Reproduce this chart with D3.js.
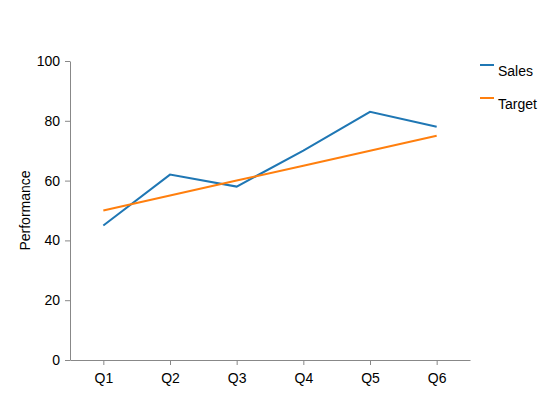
<!DOCTYPE html>
<html>
<head>
<meta charset="utf-8">
<script src="https://d3js.org/d3.v7.min.js"></script>
<style>
  body { margin: 0; background: #fff; }
  text { font-family: "Liberation Sans", Arial, sans-serif; }
</style>
</head>
<body>
<div id="chart"></div>
<script>
var quarters = ["Q1", "Q2", "Q3", "Q4", "Q5", "Q6"];
var sales = [45, 62, 58, 70, 83, 78];
var target = [50, 55, 60, 65, 70, 75];
var yTicks = [0, 20, 40, 60, 80, 100];
var seriesNames = ["Sales", "Target"];
var colors = ["#1f77b4", "#ff7f0e"];

var width = 548, height = 397;
var margin = {top: 61, right: 78, bottom: 37, left: 70};
var w = width - margin.left - margin.right;
var h = height - margin.top - margin.bottom;

var svg = d3.select("#chart").append("svg")
  .attr("width", width)
  .attr("height", height);
var g = svg.append("g").attr("transform", "translate(" + margin.left + "," + margin.top + ")");

var x = d3.scalePoint().domain(quarters).range([0, w]).padding(0.5);
var y = d3.scaleLinear().domain([0, 100]).range([h, 0]);

var xAxis = g.append("g")
  .attr("transform", "translate(0," + h + ")")
  .call(d3.axisBottom(x).tickSize(5).tickSizeOuter(0).tickPadding(8));
var yAxis = g.append("g")
  .call(d3.axisLeft(y).tickValues(yTicks).tickSize(5).tickSizeOuter(0).tickPadding(5));

[xAxis, yAxis].forEach(function(a) {
  a.select(".domain").attr("stroke", "#888");
  a.selectAll(".tick line").attr("stroke", "#888");
  a.selectAll(".tick text")
    .attr("fill", "#000")
    .style("font-size", "14px")
    .style("font-family", "'Liberation Sans', Arial, sans-serif");
});

g.append("text")
  .attr("transform", "rotate(-90)")
  .attr("x", -h / 2)
  .attr("y", -40)
  .attr("text-anchor", "middle")
  .style("font-size", "14px")
  .text("Performance");

var line = d3.line()
  .x(function(d, i) { return x(quarters[i]); })
  .y(function(d) { return y(d); });

[sales, target].forEach(function(s, i) {
  g.append("path")
    .datum(s)
    .attr("fill", "none")
    .attr("stroke", colors[i])
    .attr("stroke-width", 2)
    .attr("d", line);
});

// legend: short line sits level with the top of the label
var legend = svg.append("g").attr("transform", "translate(480,65)");
var item = legend.selectAll("g").data(seriesNames).enter().append("g")
  .attr("transform", function(d, i) { return "translate(0," + i * 33 + ")"; });
item.append("line")
  .attr("x1", 0).attr("x2", 14)
  .attr("stroke", function(d, i) { return colors[i]; })
  .attr("stroke-width", 2);
item.append("text")
  .attr("x", 18)
  .attr("y", 10.5)
  .style("font-size", "14px")
  .text(function(d) { return d; });
</script>
</body>
</html>
